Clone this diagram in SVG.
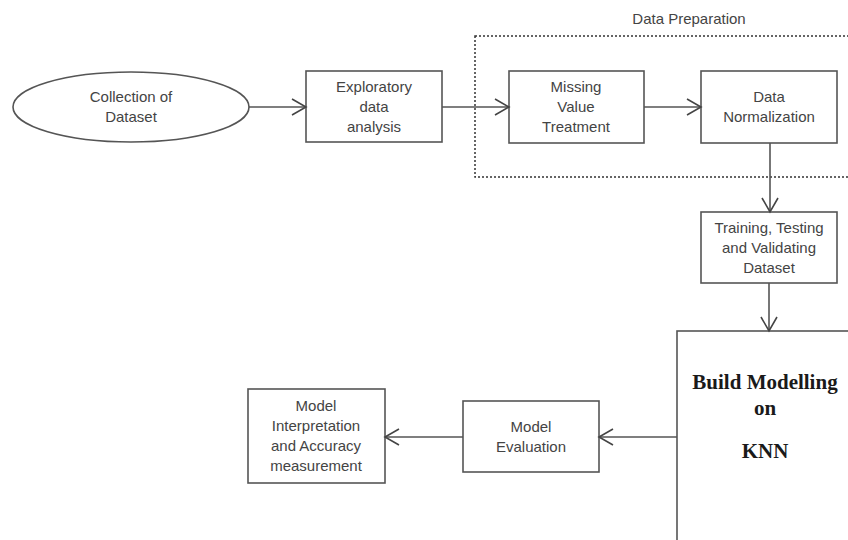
<svg xmlns="http://www.w3.org/2000/svg" width="848" height="540" viewBox="0 0 848 540">
<defs>
<marker id="arr" markerUnits="userSpaceOnUse" markerWidth="20" markerHeight="20" viewBox="-16 -10 20 20" refX="0" refY="0" orient="auto">
<path d="M-14,-8 L0,0 L-14,8" fill="none" stroke="#444" stroke-width="1.6"/>
</marker>
<style>
.box{fill:#fff;stroke:#555;stroke-width:1.6}
.t{font-family:"Liberation Sans",Arial,sans-serif;font-size:15px;fill:#444;text-anchor:middle}
.b{font-family:"Liberation Serif","Times New Roman",serif;font-size:21px;font-weight:bold;fill:#1a1a1a;text-anchor:middle}
.c{fill:none;stroke:#555;stroke-width:1.6;marker-end:url(#arr)}
</style>
</defs>
<rect width="848" height="540" fill="#fff"/>
<g id="group-data-preparation">
<rect x="475" y="36" width="400" height="141" fill="none" stroke="#333" stroke-width="1.5" stroke-dasharray="2,2"/>
<text class="t" x="689" y="24">Data Preparation</text>
</g>
<g id="node-collection">
<ellipse cx="131" cy="107" rx="118" ry="35" class="box"/>
<text class="t" x="131" y="102">Collection of</text>
<text class="t" x="131" y="122">Dataset</text>
</g>
<g id="node-eda">
<rect x="306" y="71" width="136" height="71" class="box"/>
<text class="t" x="374" y="92">Exploratory</text>
<text class="t" x="374" y="112">data</text>
<text class="t" x="374" y="132">analysis</text>
</g>
<g id="node-missing">
<rect x="509" y="71" width="135" height="72" class="box"/>
<text class="t" x="576" y="92">Missing</text>
<text class="t" x="576" y="112">Value</text>
<text class="t" x="576" y="132">Treatment</text>
</g>
<g id="node-normalization">
<rect x="701" y="71" width="136" height="72" class="box"/>
<text class="t" x="769" y="102">Data</text>
<text class="t" x="769" y="122">Normalization</text>
</g>
<g id="node-training">
<rect x="701" y="212" width="136" height="71" class="box"/>
<text class="t" x="769" y="233">Training, Testing</text>
<text class="t" x="769" y="253">and Validating</text>
<text class="t" x="769" y="273">Dataset</text>
</g>
<g id="node-knn">
<rect x="677" y="331" width="220" height="230" class="box"/>
<text class="b" x="765" y="389">Build Modelling</text>
<text class="b" x="765" y="415">on</text>
<text class="b" x="765" y="458">KNN</text>
</g>
<g id="node-evaluation">
<rect x="463" y="401" width="136" height="71" class="box"/>
<text class="t" x="531" y="432">Model</text>
<text class="t" x="531" y="452">Evaluation</text>
</g>
<g id="node-interpretation">
<rect x="248" y="389" width="137" height="94" class="box"/>
<text class="t" x="316" y="411">Model</text>
<text class="t" x="316" y="431">Interpretation</text>
<text class="t" x="316" y="451">and Accuracy</text>
<text class="t" x="316" y="471">measurement</text>
</g>
<g id="connectors">
<path class="c" d="M249,107 L306,107"/>
<path class="c" d="M442,107 L509,107"/>
<path class="c" d="M644,107 L701,107"/>
<path class="c" d="M770,143 L770,212"/>
<path class="c" d="M769,283 L769,331"/>
<path class="c" d="M677,437 L599,437"/>
<path class="c" d="M463,437 L385,437"/>
</g>
</svg>
